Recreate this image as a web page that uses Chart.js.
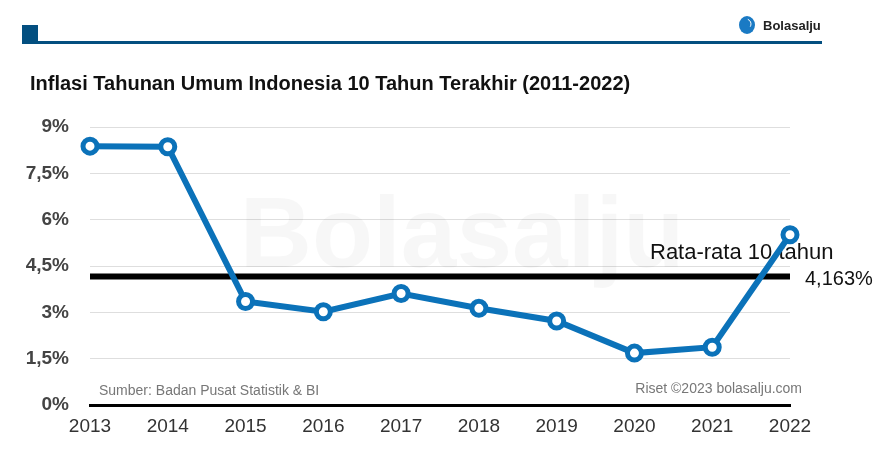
<!DOCTYPE html>
<html>
<head>
<meta charset="utf-8">
<script src="https://cdn.jsdelivr.net/npm/chart.js@4"></script>
<style>
  html, body { margin: 0; padding: 0; background: #fff; }
  #wrap { width: 891px; height: 459px; position: relative; }
</style>
</head>
<body>
<div id="wrap"><canvas id="inflasiChart" width="891" height="459"></canvas></div>
<script>
const years = ["2013", "2014", "2015", "2016", "2017", "2018", "2019", "2020", "2021", "2022"];
const inflasi = [8.38, 8.36, 3.35, 3.02, 3.61, 3.13, 2.72, 1.68, 1.87, 5.51];
const rataRata = 4.163;
const yTicks = [0, 1.5, 3, 4.5, 6, 7.5, 9];

const FONT = "'Liberation Sans', Arial, Helvetica, sans-serif";
const BLUE = "#0b72b9";
const HEADER_BLUE = "#034f80";

function fmt(v) {
    return String(v).replace(".", ",") + "%";
}

// header, judul, watermark, garis rata-rata, sumber
const decorPlugin = {
    id: "decor",
    beforeDraw(chart) {
        const ctx = chart.ctx;
        ctx.save();
        ctx.fillStyle = "#fff";
        ctx.fillRect(0, 0, chart.width, chart.height);

        // header
        ctx.fillStyle = HEADER_BLUE;
        ctx.fillRect(22, 25, 16, 18);
        ctx.fillRect(22, 41, 800, 3);

        // logo
        ctx.fillStyle = "#1a7ac4";
        ctx.beginPath();
        ctx.ellipse(747, 25, 8, 9, 0, 0, Math.PI * 2);
        ctx.fill();
        ctx.strokeStyle = "#ffffff";
        ctx.lineWidth = 1;
        ctx.beginPath();
        ctx.arc(746, 24, 5, -1.2, 0.6);
        ctx.stroke();
        ctx.fillStyle = "#222";
        ctx.font = "bold 13px " + FONT;
        ctx.textBaseline = "middle";
        ctx.textAlign = "left";
        ctx.fillText("Bolasalju", 763, 26);

        // judul
        ctx.fillStyle = "#111";
        ctx.font = "bold 20px " + FONT;
        ctx.fillText("Inflasi Tahunan Umum Indonesia 10 Tahun Terakhir (2011-2022)", 30, 84);
        ctx.restore();
    },
    beforeDatasetsDraw(chart) {
        const ctx = chart.ctx;
        const area = chart.chartArea;
        const y = chart.scales.y;
        ctx.save();

        // watermark
        ctx.fillStyle = "rgba(0,0,0,0.03)";
        ctx.font = "bold 100px " + FONT;
        ctx.textAlign = "center";
        ctx.textBaseline = "alphabetic";
        ctx.fillText("Bolasalju", 462, 267);

        // garis rata-rata
        const yAvg = y.getPixelForValue(rataRata);
        ctx.strokeStyle = "#000";
        ctx.lineWidth = 6;
        ctx.beginPath();
        ctx.moveTo(area.left, yAvg);
        ctx.lineTo(area.right, yAvg);
        ctx.stroke();

        ctx.fillStyle = "#111";
        ctx.font = "22px " + FONT;
        ctx.textAlign = "left";
        ctx.textBaseline = "alphabetic";
        ctx.fillText("Rata-rata 10 tahun", 650, yAvg - 17);
        ctx.font = "20px " + FONT;
        ctx.textBaseline = "middle";
        ctx.fillText(fmt(rataRata.toFixed(3)), 805, yAvg + 3);

        // sumber
        ctx.fillStyle = "#777";
        ctx.font = "14px " + FONT;
        ctx.textAlign = "left";
        ctx.fillText("Sumber: Badan Pusat Statistik & BI", 99, 391);
        ctx.textAlign = "right";
        ctx.fillText("Riset \u00A92023 bolasalju.com", 802, 389);
        ctx.restore();
    }
};

new Chart(document.getElementById("inflasiChart").getContext("2d"), {
    type: "line",
    data: {
        labels: years,
        datasets: [{
            label: "Inflasi",
            data: inflasi,
            borderColor: BLUE,
            borderWidth: 6,
            pointRadius: 7,
            pointBorderWidth: 5,
            pointBackgroundColor: "#fff",
            pointBorderColor: BLUE,
            tension: 0,
            fill: false
        }]
    },
    options: {
        responsive: false,
        animation: false,
        layout: { padding: { left: 0, right: 101, top: 127, bottom: 0 } },
        plugins: {
            legend: { display: false },
            tooltip: { enabled: false }
        },
        scales: {
            x: {
                offset: false,
                grid: { display: false, drawTicks: false },
                border: { display: true, color: "#000", width: 3 },
                ticks: {
                    color: "#333",
                    font: { family: FONT, size: 19 },
                    padding: 10,
                    maxRotation: 0,
                    autoSkip: false
                },
                afterFit(scale) { scale.height = 54; }
            },
            y: {
                min: 0,
                max: 9,
                afterBuildTicks(scale) {
                    scale.ticks = yTicks.map(v => ({ value: v }));
                },
                grid: { color: "#dedede", lineWidth: 1, drawTicks: false },
                border: { display: false },
                ticks: {
                    color: "#444",
                    font: { family: FONT, size: 19, weight: "bold" },
                    padding: 21,
                    callback: v => fmt(v)
                },
                afterFit(scale) { scale.width = 90; }
            }
        }
    },
    plugins: [decorPlugin]
});
</script>
</body>
</html>
